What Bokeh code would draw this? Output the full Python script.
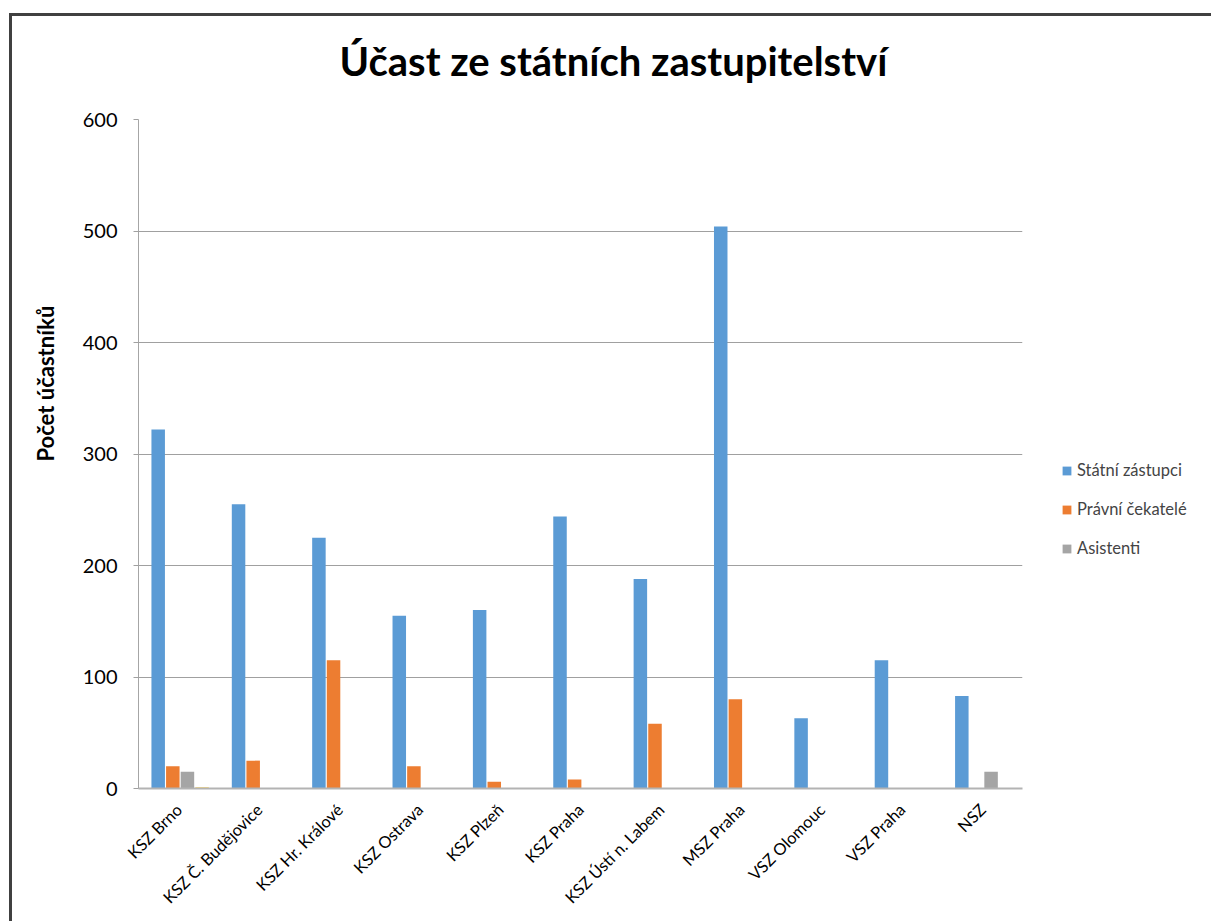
from math import pi
from bokeh.plotting import figure
from bokeh.models import (ColumnDataSource, FactorRange, Legend, LegendItem, Title,
                          Range1d, FixedTicker)
from bokeh.transform import dodge
from bokeh.embed import file_html
from bokeh.resources import INLINE

kategorie = ["KSZ Brno", "KSZ Č. Budějovice", "KSZ Hr. Králové", "KSZ Ostrava",
             "KSZ Plzeň", "KSZ Praha", "KSZ Ústí n. Labem", "MSZ Praha",
             "VSZ Olomouc", "VSZ Praha", "NSZ"]
statni_zastupci = [322, 255, 225, 155, 160, 244, 188, 504, 63, 115, 83]
pravni_cekatele = [20, 25, 115, 20, 6, 8, 58, 80, 0, 0, 0]
asistenti = [15, 0, 0, 0, 0, 0, 0, 0, 0, 0, 15]
ostatni = [1, 0, 0, 0, 0, 0, 0, 0, 0, 0, 0]
serie_nazvy = ["Státní zástupci", "Právní čekatelé", "Asistenti"]
y_ticks = [0, 100, 200, 300, 400, 500, 600]

nadpis = "Účast ze státních zastupitelství"
osa_y = "Počet účastníků"

src = ColumnDataSource(dict(kat=kategorie, s=statni_zastupci, p=pravni_cekatele,
                            a=asistenti, o=ostatni))

FONT = "Lato"
W, H = 1199, 905
p = figure(x_range=FactorRange(*kategorie), y_range=Range1d(0, 600),
           width=W, height=H, frame_width=884, frame_height=669,
           output_backend="svg", toolbar_location=None,
           min_border_left=126, min_border_right=189, min_border_top=103,
           min_border_bottom=133, title=None)
p.styles = {"border-left": "3px solid #404040", "border-top": "3px solid #404040",
            "margin-top": "13px", "margin-left": "9px"}
p.outline_line_color = None
p.background_fill_color = "white"

bw = 0.168
r1 = p.vbar(x=dodge("kat", -0.255, range=p.x_range), top="s", width=bw, source=src,
            fill_color="#5B9BD5", line_color=None)
r2 = p.vbar(x=dodge("kat", -0.073, range=p.x_range), top="p", width=bw, source=src,
            fill_color="#ED7D31", line_color=None)
r3 = p.vbar(x=dodge("kat", 0.109, range=p.x_range), top="a", width=bw, source=src,
            fill_color="#A5A5A5", line_color=None)
r4 = p.vbar(x=dodge("kat", 0.291, range=p.x_range), top="o", width=bw, source=src,
            fill_color="#FFC000", line_color=None)

# axes
p.xgrid.grid_line_color = None
p.ygrid.grid_line_color = "#a0a0a0"
p.ygrid.grid_line_width = 1
p.yaxis.ticker = FixedTicker(ticks=y_ticks)
p.yaxis.axis_line_color = "#a6a6a6"
p.yaxis.major_tick_line_color = "#a0a0a0"
p.yaxis.major_tick_out = 5
p.yaxis.major_tick_in = 0
p.yaxis.minor_tick_line_color = None
p.yaxis.major_label_text_font = FONT
p.yaxis.major_label_text_font_size = "20px"
p.yaxis.major_label_text_color = "black"
p.yaxis.major_label_standoff = 16

p.xaxis.axis_line_color = "#b3b3b3"
p.xaxis.axis_line_width = 2
p.xaxis.major_tick_line_color = None
p.xaxis.minor_tick_line_color = None
p.xaxis.major_label_orientation = pi / 4
p.xaxis.major_label_text_font = FONT
p.xaxis.major_label_text_font_size = "16.4px"
p.xaxis.major_label_text_color = "black"
p.xaxis.major_label_standoff = 12

# spacer above the frame, then the chart title
p.add_layout(Title(text=" ", text_font_size="1px", standoff=31), "above")
p.add_layout(Title(text=nadpis, align="left", offset=201, vertical_align="middle",
                   standoff=0, text_font=FONT, text_font_style="bold",
                   text_font_size="40px", text_color="black"), "above")

# y axis title
p.add_layout(Title(text=osa_y, align="right", offset=186, vertical_align="top",
                   standoff=38, text_font=FONT, text_font_style="bold",
                   text_font_size="22px", text_color="black"), "left")

legend = Legend(items=[LegendItem(label=serie_nazvy[0], renderers=[r1]),
                       LegendItem(label=serie_nazvy[1], renderers=[r2]),
                       LegendItem(label=serie_nazvy[2], renderers=[r3])],
                location=(39, 230), label_text_font=FONT, label_text_font_size="16.5px",
                glyph_width=11, glyph_height=11, label_standoff=5, spacing=19,
                label_height=20, padding=0, margin=0, border_line_color=None,
                background_fill_alpha=0)
p.add_layout(legend, "right")

open("out.html", "w").write(file_html(p, INLINE))
